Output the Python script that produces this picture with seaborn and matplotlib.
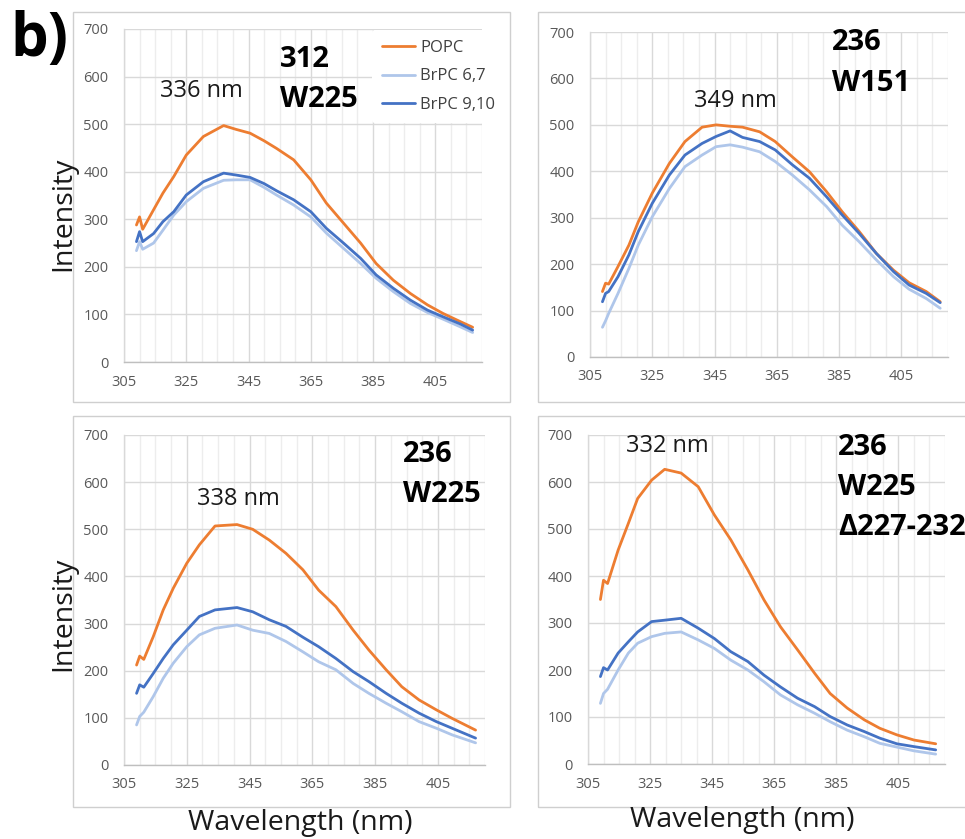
import numpy as np
import pandas as pd
import matplotlib
matplotlib.use("Agg")
import matplotlib.pyplot as plt
import seaborn as sns
from matplotlib.patches import Rectangle
from matplotlib.ticker import MultipleLocator, FixedLocator

# ---------------- data ----------------
series_names = ["POPC", "BrPC 6,7", "BrPC 9,10"]
series_colors = ["#ED7D31", "#AFC6EA", "#4472C4"]

# panel a: 312 W225
wl_a = [309, 310, 311, 314.5, 317.5, 321, 325, 330.5, 337, 341, 345.5, 350, 354, 359.5,
        365, 370, 375.5, 381, 386, 391.5, 397, 402.5, 407.5, 413, 417]
popc_a = [288, 305, 279, 320, 355, 390, 435, 474, 497, 489, 481, 465, 449, 425,
          383, 334, 292, 250, 207, 172, 144, 120, 102, 85, 73]
brpc67_a = [234, 253, 237, 250, 277, 309, 337, 365, 382, 383, 383, 367, 351, 330,
            305, 271, 239, 207, 176, 148, 123, 104, 90, 74, 62]
brpc910_a = [253, 274, 253, 270, 295, 316, 351, 379, 397, 393, 388, 375, 360, 341,
             316, 281, 250, 218, 183, 155, 130, 109, 95, 80, 67]

# panel b: 236 W151
wl_b = [309, 310, 311, 314, 317.5, 320.5, 325, 330.5, 335.5, 341, 345.5, 350, 354, 359.5,
        364.5, 370, 375.5, 381, 386, 391.5, 397, 402.5, 407.5, 413, 417.5]
popc_b = [141, 159, 157, 195, 241, 291, 353, 417, 464, 495, 500, 497, 495, 485,
          464, 431, 399, 356, 313, 270, 223, 187, 160, 141, 119]
brpc67_b = [64, 78, 94, 137, 191, 241, 302, 363, 410, 435, 453, 457, 452, 442,
            421, 392, 360, 324, 284, 248, 209, 173, 146, 126, 105]
brpc910_b = [119, 137, 141, 173, 220, 270, 331, 392, 435, 460, 475, 487, 473, 464,
             446, 414, 385, 345, 306, 266, 223, 184, 155, 137, 117]

# panel c: 236 W225
wl_c = [309, 310, 311.3, 314.3, 317.5, 320.7, 325, 329, 334, 341, 346, 351.3, 356.6, 362,
        367, 372.5, 378, 383, 388.5, 393.5, 399, 404.5, 409.5, 417]
popc_c = [212, 231, 224, 272, 329, 375, 428, 467, 507, 510, 500, 477, 449, 414,
          371, 336, 286, 244, 202, 166, 138, 117, 99, 74]
brpc67_c = [85, 103, 112, 145, 184, 216, 251, 276, 290, 297, 286, 279, 262, 240,
            219, 202, 173, 152, 131, 113, 92, 78, 64, 47]
brpc910_c = [152, 170, 165, 194, 226, 255, 286, 315, 329, 334, 325, 308, 294, 271,
             251, 226, 198, 177, 152, 131, 110, 92, 78, 57]

# panel d: 236 W225 delta227-232
wl_d = [309, 310, 311.3, 314.7, 318, 321, 325.5, 329.7, 335, 340.5, 345.7, 351, 356.5, 361.7,
        367, 372.5, 378, 383, 388.5, 394, 399, 404.5, 410, 417]
popc_d = [350, 391, 384, 455, 512, 565, 604, 627, 619, 590, 530, 477, 413, 349,
          292, 243, 193, 150, 119, 94, 76, 62, 51, 43]
brpc67_d = [129, 150, 159, 200, 236, 257, 271, 278, 281, 264, 246, 221, 200, 175,
            147, 126, 108, 90, 72, 58, 44, 36, 28, 21]
brpc910_d = [186, 205, 200, 236, 260, 281, 303, 306, 310, 289, 267, 239, 218, 189,
             164, 140, 122, 101, 83, 69, 55, 43, 37, 30]

peak_labels = ["336 nm", "349 nm", "338 nm", "332 nm"]
construct_labels = [["312", "W225"], ["236", "W151"], ["236", "W225"], ["236", "W225", "\u0394227-232"]]
x_ticks = [305, 325, 345, 365, 385, 405]
y_label = "Intensity"
x_label = "Wavelength (nm)"
panel_letter = "b)"

# ---------------- styling ----------------
sns.set_theme(style="white")
plt.rcParams['font.family'] = ['Open Sans', 'DejaVu Sans']

W, H = 965, 839
fig = plt.figure(figsize=(W / 100, H / 100), dpi=100)
fig.patch.set_facecolor("white")


def fx(px):
    return px / W


def fy(py):
    return 1 - py / H


def make_axes(l, t, r, b):
    return fig.add_axes([fx(l), fy(b), (r - l) / W, (b - t) / H])


# chart-area frames
for (l, t, r, b) in [(73, 12, 510, 402), (538, 12, 978, 402),
                     (73, 416, 510, 807), (538, 416, 978, 807)]:
    fig.patches.append(Rectangle((fx(l), fy(b)), (r - l) / W, (b - t) / H,
                                 transform=fig.transFigure, fill=False,
                                 edgecolor="#CFCFCF", lw=1.0, zorder=0))

axes_boxes = [(124, 29, 482, 362), (590, 32, 948, 357),
              (124, 435, 485, 765), (588, 435, 945, 764)]

panels = [
    (wl_a, popc_a, brpc67_a, brpc910_a),
    (wl_b, popc_b, brpc67_b, brpc910_b),
    (wl_c, popc_c, brpc67_c, brpc910_c),
    (wl_d, popc_d, brpc67_d, brpc910_d),
]

palette = dict(zip(series_names, series_colors))
axes = []
for i, (box, (wl, p, b67, b910)) in enumerate(zip(axes_boxes, panels)):
    ax = make_axes(*box)
    axes.append(ax)
    frames = []
    for name, vals in zip(series_names, [p, b67, b910]):
        frames.append(pd.DataFrame({"wl": wl, "val": vals, "series": name}))
    df = pd.concat(frames, ignore_index=True)
    sns.lineplot(data=df, x="wl", y="val", hue="series", hue_order=series_names,
                 palette=palette, estimator=None, sort=False, lw=2.0, ax=ax,
                 legend=(i == 0))
    ax.set_xlim(305, 420)
    ax.set_ylim(0, 700)
    ax.xaxis.set_major_locator(FixedLocator(x_ticks))
    ax.xaxis.set_minor_locator(MultipleLocator(5))
    ax.yaxis.set_major_locator(MultipleLocator(100))
    ax.grid(which="major", color="#D9D9D9", lw=1.0)
    ax.grid(which="minor", axis="x", color="#EDEDED", lw=1.0)
    ax.set_axisbelow(True)
    ax.tick_params(which="both", length=0)
    ax.tick_params(axis="x", pad=9, labelsize=10.5, labelcolor="#595959")
    ax.tick_params(axis="y", pad=11, labelsize=10.5, labelcolor="#595959")
    ax.set_xlabel("")
    ax.set_ylabel("")
    for s in ["top", "right"]:
        ax.spines[s].set_visible(False)
    ax.spines["left"].set_color("#D9D9D9")
    ax.spines["bottom"].set_color("#BFBFBF")
    ax.spines["left"].set_linewidth(1.0)
    ax.spines["bottom"].set_linewidth(1.0)
    ax.set_facecolor("white")

# legend in first panel
handles, labels = axes[0].get_legend_handles_labels()
axes[0].legend(handles, labels, loc="lower left",
               bbox_to_anchor=(fx(372), fy(123)), bbox_transform=fig.transFigure,
               frameon=True, facecolor="white", edgecolor="none", framealpha=1,
               fontsize=12, handlelength=2.0, handletextpad=0.3,
               labelspacing=0.75, borderpad=0.6, borderaxespad=0,
               labelcolor="#404040")

# texts
txt = "#1A1A1A"
fig.text(fx(10), fy(56), panel_letter, fontsize=43, fontweight="bold", color="black",
         ha="left", va="baseline")
for yc in (214, 614):
    fig.text(fx(63), fy(yc), y_label, rotation=90, fontsize=20.5, color=txt,
             ha="center", va="center")
fig.text(fx(300), fy(830), x_label, fontsize=20.5, color=txt, ha="center", va="baseline")
fig.text(fx(742), fy(827), x_label, fontsize=20.5, color=txt, ha="center", va="baseline")

peak_pos = [(160, 97), (694, 107), (197, 505), (626, 452)]
for lab, (x, y) in zip(peak_labels, peak_pos):
    fig.text(fx(x), fy(y), lab, fontsize=17, color=txt, ha="left", va="baseline")

construct_pos = [(280, [67, 107]), (832, [50, 91]), (403, [462, 502]), (838, [455, 495, 535])]
for lines, (x, ys) in zip(construct_labels, construct_pos):
    for line, y in zip(lines, ys):
        fig.text(fx(x), fy(y), line, fontsize=21, fontweight="bold", color="black",
                 ha="left", va="baseline")

fig.savefig("out.png", dpi=100, facecolor="white")
